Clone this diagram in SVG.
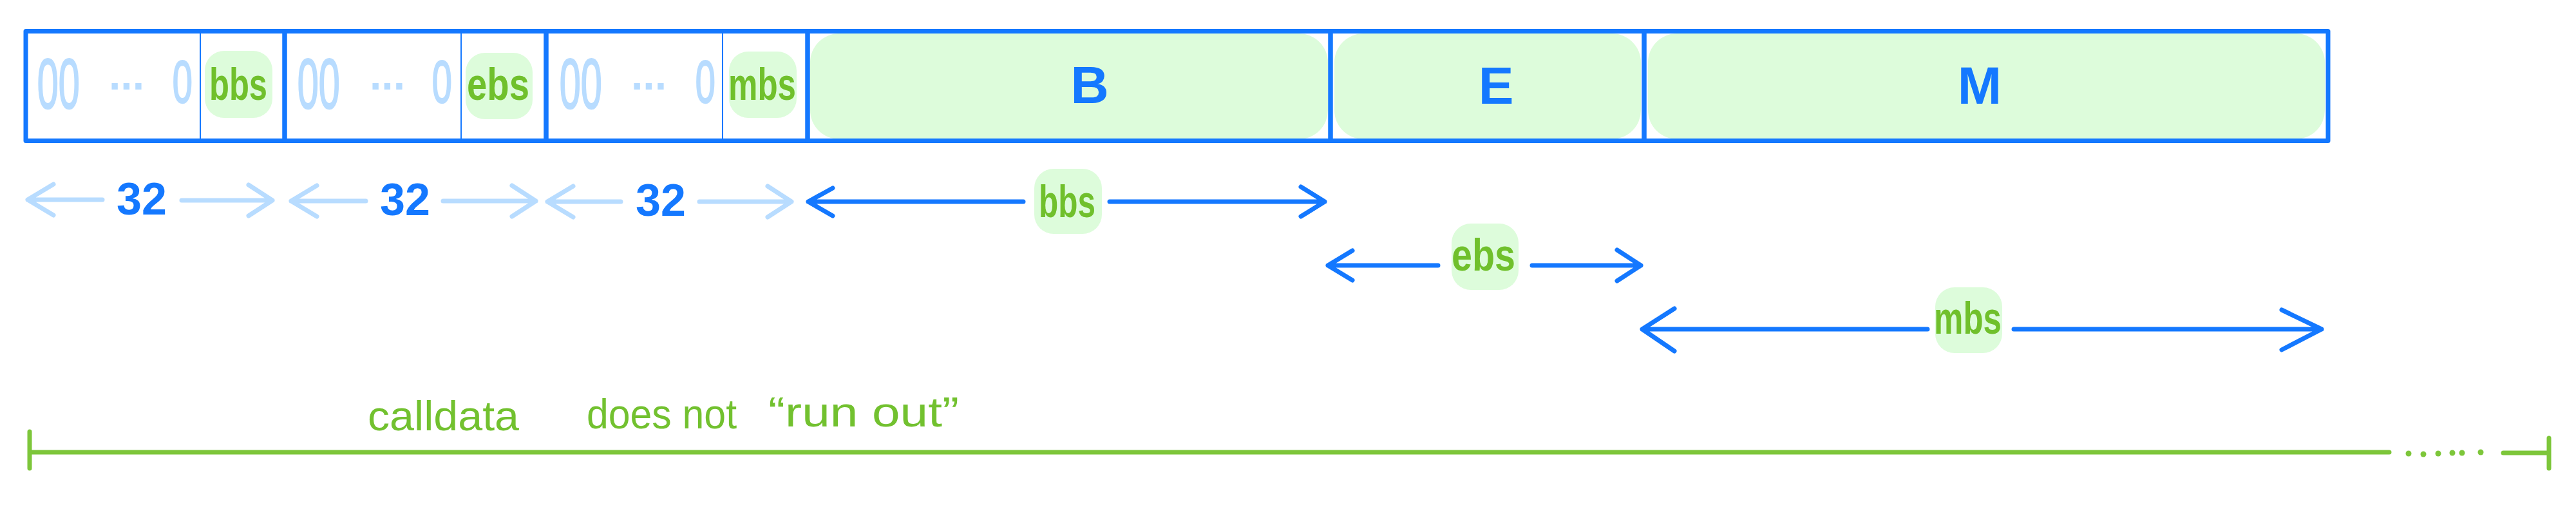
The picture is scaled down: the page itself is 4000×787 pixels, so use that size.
<svg xmlns="http://www.w3.org/2000/svg" width="4000" height="787" viewBox="0 0 4000 787">
<style>
.blk{fill:none;stroke:#1478ff;stroke-width:7;stroke-linejoin:round}
.thin{stroke:#1478ff;stroke-width:2}
.bg{fill:#ddfcdb}
.hw{font-family:"Liberation Sans",sans-serif;fill:#70c02c;font-size:70px;font-weight:bold}
.zero{font-family:"Liberation Sans",sans-serif;fill:#b8dcff;stroke:#b8dcff;stroke-width:2.5}
.z1{font-size:110px}
.z2{font-size:93px}
.dots{font-family:"Liberation Sans",sans-serif;fill:#b8dcff;font-size:66px;font-weight:bold}
.big{font-family:"Liberation Sans",sans-serif;font-weight:bold;fill:#1478ff;font-size:82px;text-anchor:middle}
.num{font-family:"Liberation Sans",sans-serif;fill:#1478ff;font-size:70px;font-weight:bold;text-anchor:middle}
.arr{fill:none;stroke:#1478ff;stroke-width:7;stroke-linecap:round;stroke-linejoin:round}
.arrl{fill:none;stroke:#b8dcff;stroke-width:7;stroke-linecap:round;stroke-linejoin:round}
.gl{fill:none;stroke:#7dc63a;stroke-width:7;stroke-linecap:round}
.gd{fill:#7dc63a}
.cd{font-family:"Liberation Sans",sans-serif;fill:#72c12f;font-size:64px}
</style>
<rect width="4000" height="787" fill="#ffffff"/>

<g id="word-bbs">
  <rect class="bg" x="318" y="79" width="105" height="104" rx="30"/>
  <rect class="blk" x="40" y="48.5" width="402" height="170"/>
  <line class="thin" x1="311" y1="52" x2="311" y2="215"/>
  <text class="zero z1" transform="translate(57.8 168) scale(0.54 1)">00</text>
  <text class="dots" x="169" y="138.5">...</text>
  <text class="zero z2" transform="translate(267.7 159) scale(0.6 1)">0</text>
  <text class="hw" x="325" y="155" textLength="90" lengthAdjust="spacingAndGlyphs">bbs</text>
</g>

<g id="word-ebs">
  <rect class="bg" x="723" y="82" width="104" height="103" rx="30"/>
  <rect class="blk" x="442" y="48.5" width="406" height="170"/>
  <line class="thin" x1="716" y1="52" x2="716" y2="215"/>
  <text class="zero z1" transform="translate(461.8 168) scale(0.54 1)">00</text>
  <text class="dots" x="574" y="138.5">...</text>
  <text class="zero z2" transform="translate(670.7 159) scale(0.6 1)">0</text>
  <text class="hw" x="725" y="155" textLength="97" lengthAdjust="spacingAndGlyphs">ebs</text>
</g>

<g id="word-mbs">
  <rect class="bg" x="1132" y="80" width="105" height="103" rx="30"/>
  <rect class="blk" x="848" y="48.5" width="406" height="170"/>
  <line class="thin" x1="1122" y1="52" x2="1122" y2="215"/>
  <text class="zero z1" transform="translate(868.8 168) scale(0.54 1)">00</text>
  <text class="dots" x="980" y="138.5">...</text>
  <text class="zero z2" transform="translate(1079.7 159) scale(0.6 1)">0</text>
  <text class="hw" x="1131" y="155" textLength="105" lengthAdjust="spacingAndGlyphs">mbs</text>
</g>

<g id="block-B">
  <rect class="bg" x="1258" y="52" width="804" height="164" rx="45"/>
  <rect class="blk" x="1254" y="48.5" width="812" height="170"/>
  <text class="big" x="1692" y="160">B</text>
</g>

<g id="block-E">
  <rect class="bg" x="2072" y="52" width="476" height="164" rx="45"/>
  <rect class="blk" x="2066" y="48.5" width="487" height="170"/>
  <text class="big" x="2323" y="161">E</text>
</g>

<g id="block-M">
  <rect class="bg" x="2559" y="52" width="1051" height="164" rx="45"/>
  <rect class="blk" x="2553" y="48.5" width="1062" height="170"/>
  <text class="big" x="3074" y="161">M</text>
</g>

<g id="connectors">
  <g id="size-32-1">
    <path class="arrl" d="M159 310H43M83 286L43 310L83 334M282 311H423M386 287L423 311L386 335"/>
    <text class="num" x="220" y="333">32</text>
  </g>
  <g id="size-32-2">
    <path class="arrl" d="M568 312H452M492 288L452 312L492 336M688 312H832M795 288L832 312L795 336"/>
    <text class="num" x="629" y="334">32</text>
  </g>
  <g id="size-32-3">
    <path class="arrl" d="M964 313H850M890 289L850 313L890 337M1086 313H1229M1192 289L1229 313L1192 337"/>
    <text class="num" x="1026" y="335">32</text>
  </g>
  <g id="size-bbs">
    <path class="arr" d="M1589 313H1255M1293 292L1255 313L1293 335M1723 313H2057M2020 290L2057 313L2020 336"/>
    <rect class="bg" x="1606" y="262" width="105" height="101" rx="30"/>
    <text class="hw" x="1613" y="337" textLength="88" lengthAdjust="spacingAndGlyphs">bbs</text>
  </g>
  <g id="size-ebs">
    <path class="arr" d="M2233 412H2062M2100 389L2062 412L2100 435M2379 412H2548M2511 388L2548 412L2511 436"/>
    <rect class="bg" x="2254" y="347" width="104" height="103" rx="30"/>
    <text class="hw" x="2254" y="420" textLength="99" lengthAdjust="spacingAndGlyphs">ebs</text>
  </g>
  <g id="size-mbs">
    <path class="arr" d="M2993 511H2550M2600 479L2550 511L2600 545M3127 511H3605M3543 481L3605 511L3543 543"/>
    <rect class="bg" x="3005" y="446" width="104" height="102" rx="30"/>
    <text class="hw" x="3003" y="518" textLength="105" lengthAdjust="spacingAndGlyphs">mbs</text>
  </g>
  <g id="calldata">
    <path class="gl" d="M46 670V727M46 702H3710M3887 703H3958M3958 680V727"/>
    <circle class="gd" cx="3740" cy="704" r="4.5"/>
    <circle class="gd" cx="3763" cy="705" r="4.5"/>
    <circle class="gd" cx="3786" cy="704" r="4.5"/>
    <circle class="gd" cx="3808" cy="703" r="4.5"/>
    <circle class="gd" cx="3823" cy="703" r="4.5"/>
    <circle class="gd" cx="3852" cy="702" r="4.5"/>
    <text class="cd"><tspan x="571" y="668" textLength="235" lengthAdjust="spacingAndGlyphs">calldata</tspan><tspan x="911" y="665" textLength="233" lengthAdjust="spacingAndGlyphs">does not</tspan><tspan x="1193" y="662" textLength="296" lengthAdjust="spacingAndGlyphs">“run out”</tspan></text>
  </g>
</g>
</svg>
